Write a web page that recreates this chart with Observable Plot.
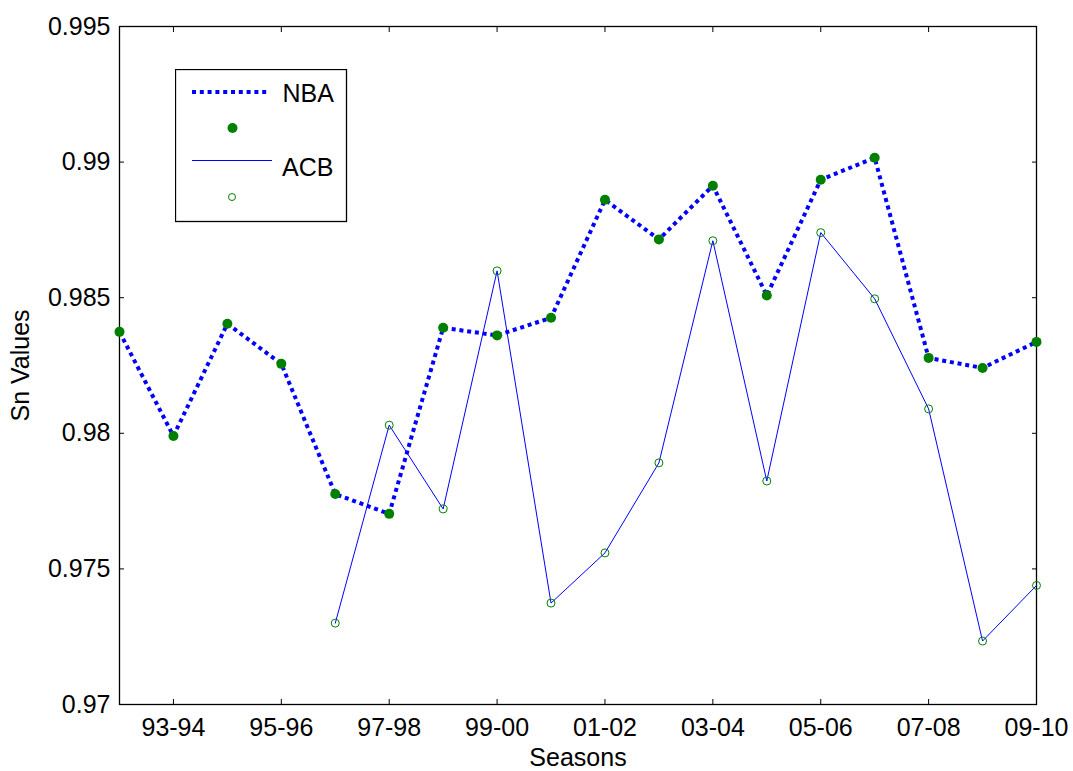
<!DOCTYPE html>
<html><head><meta charset="utf-8">
<script src="https://cdn.jsdelivr.net/npm/d3@7"></script>
<script src="https://cdn.jsdelivr.net/npm/@observablehq/plot@0.6"></script>
<style>
body{margin:0;background:#fff;font-family:"Liberation Sans",Arial,sans-serif}
#wrap{position:relative;width:1073px;height:771px}
#legend{position:absolute;left:175px;top:69px}
</style>
</head><body><div id="wrap"></div>
<script>
const seasons = ["92-93","93-94","94-95","95-96","96-97","97-98","98-99","99-00","00-01","01-02","02-03","03-04","04-05","05-06","06-07","07-08","08-09","09-10"];
const tickSeasons = ["93-94","95-96","97-98","99-00","01-02","03-04","05-06","07-08","09-10"];
const nbaValues = [0.98374, 0.97990, 0.98404, 0.98256, 0.97776, 0.97703, 0.98389, 0.98361, 0.98426, 0.98861, 0.98715, 0.98913, 0.98508, 0.98935, 0.99016, 0.98278, 0.98241, 0.98337];
const acbValues = [null, null, null, null, 0.97300, 0.98030, 0.97721, 0.98599, 0.97374, 0.97559, 0.97891, 0.98710, 0.97824, 0.98740, 0.98496, 0.98090, 0.97234, 0.97439];
const yTicks = [0.97, 0.975, 0.98, 0.985, 0.99, 0.995];
const seriesNames = ["NBA", "ACB"];

const nba = seasons.map((s, i) => ({season: s, value: nbaValues[i]}));
const acb = seasons.map((s, i) => ({season: s, value: acbValues[i]})).filter(d => d.value != null);
const fmt = d => String(+d.toFixed(3));
const font = '"Liberation Sans", Arial, sans-serif';

const chart = Plot.plot({
  width: 1073, height: 771,
  marginLeft: 119, marginRight: 37, marginTop: 26, marginBottom: 67,
  style: {fontSize: "25px", fontFamily: font, background: "white", color: "black", overflow: "visible"},
  x: {type: "point", domain: seasons, padding: 0, round: false},
  y: {domain: [0.97, 0.995]},
  marks: [
    Plot.frame({stroke: "black", strokeWidth: 1.3}),
    Plot.axisX({anchor: "bottom", ticks: tickSeasons, tickSize: -5, tickPadding: 19, label: "Seasons", labelAnchor: "center", labelOffset: 61, labelArrow: "none"}),
    Plot.axisX({anchor: "top", ticks: tickSeasons, tickSize: -5, tickFormat: () => "", label: null}),
    Plot.axisY({anchor: "left", ticks: yTicks, tickFormat: fmt, tickSize: -5, tickPadding: 14, label: "Sn Values", labelAnchor: "center", labelOffset: 108, labelArrow: "none"}),
    Plot.axisY({anchor: "right", ticks: yTicks, tickSize: -5, tickFormat: () => "", label: null}),
    Plot.line(nba, {x: "season", y: "value", stroke: "#0000ff", strokeWidth: 4, strokeDasharray: "4,3.8", strokeLinecap: "butt"}),
    Plot.dot(nba, {x: "season", y: "value", fill: "#008000", r: 5}),
    Plot.line(acb, {x: "season", y: "value", stroke: "#0000ff", strokeWidth: 1}),
    Plot.dot(acb, {x: "season", y: "value", stroke: "#008000", fill: "none", r: 4, strokeWidth: 1})
  ]
});
const wrap = document.getElementById("wrap");
wrap.appendChild(chart);

// Legend overlay (MATLAB-style box inside the axes)
const legend = document.createElementNS("http://www.w3.org/2000/svg", "svg");
legend.setAttribute("id", "legend");
legend.setAttribute("width", 175);
legend.setAttribute("height", 156);
legend.innerHTML = `
  <rect x="0.5" y="0.5" width="171" height="152" fill="white" stroke="black" stroke-width="1.3"/>
  <line x1="17" x2="95" y1="23" y2="23" stroke="#0000ff" stroke-width="4" stroke-dasharray="4,3.8"/>
  <text x="107.5" y="33" font-family='${font}' font-size="25" fill="black">${seriesNames[0]}</text>
  <circle cx="57.5" cy="59" r="5" fill="#008000"/>
  <line x1="17" x2="97" y1="91.5" y2="91.5" stroke="#0000ff" stroke-width="1"/>
  <text x="107" y="107" font-family='${font}' font-size="25" fill="black">${seriesNames[1]}</text>
  <circle cx="57" cy="128" r="3.5" fill="none" stroke="#008000" stroke-width="1"/>
`;
wrap.appendChild(legend);
</script>
</body></html>
